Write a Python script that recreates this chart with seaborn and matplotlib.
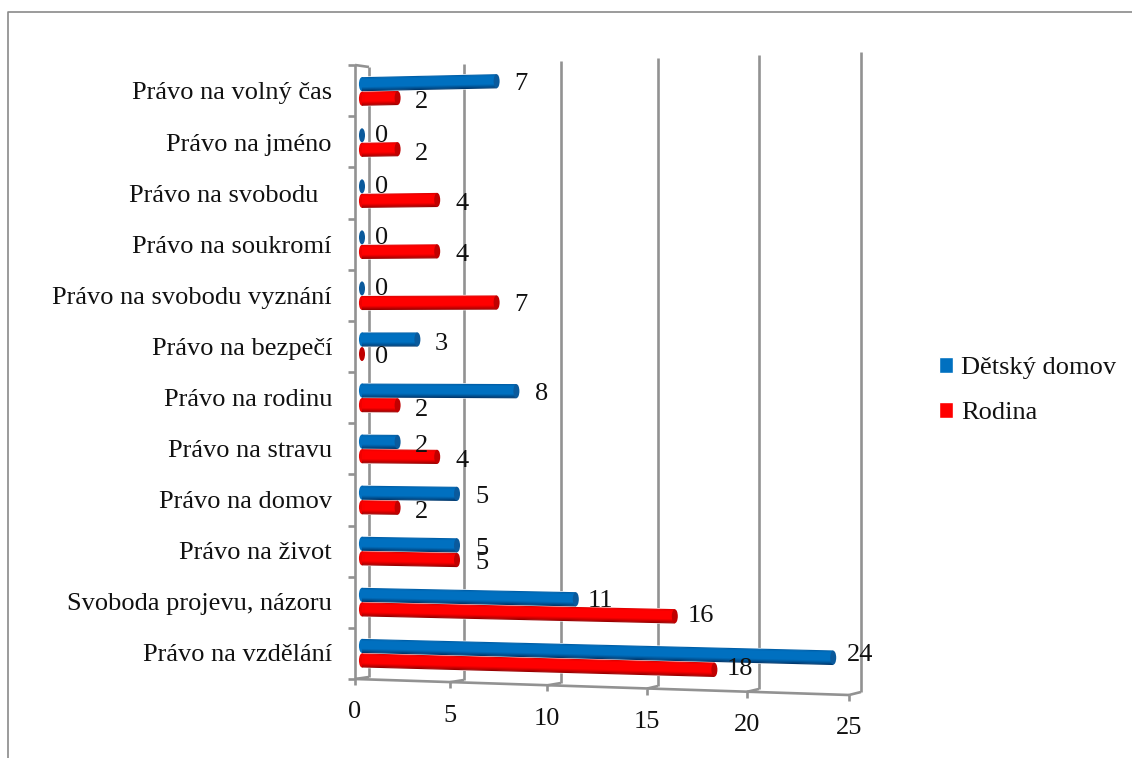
import numpy as np
import pandas as pd
import matplotlib
matplotlib.use("Agg")
import matplotlib.pyplot as plt
from matplotlib.patches import Rectangle, Ellipse
from matplotlib.transforms import Transform
import seaborn as sns

categories = ["Právo na volný čas", "Právo na jméno", "Právo na svobodu  ",
              "Právo na soukromí", "Právo na svobodu vyznání", "Právo na bezpečí",
              "Právo na rodinu", "Právo na stravu", "Právo na domov",
              "Právo na život", "Svoboda projevu, názoru", "Právo na vzdělání"]
detsky_domov = [7, 0, 0, 0, 0, 3, 8, 2, 5, 5, 11, 24]
rodina = [2, 2, 4, 4, 7, 0, 2, 4, 2, 5, 16, 18]
series_names = ["Dětský domov", "Rodina"]
axis_ticks = [0, 5, 10, 15, 20, 25]

sns.set_theme(style="white")
plt.rcParams["font.family"] = ["Liberation Serif", "DejaVu Serif"]
TEXT = "#111111"
FRAME = "#929292"
FS = 19

# Foreshortened wall and floor stations for the axis ticks, in canvas pixels
front_x = [355, 450, 547, 647, 747, 849]
back_x = [369, 464, 561, 658, 759, 861]


class ObliqueView(Transform):
    """Maps (value, category position) onto canvas pixels with a slight vanishing tilt."""
    input_dims = 2
    output_dims = 2
    is_separable = False

    def transform_non_affine(self, values):
        values = np.asarray(values, dtype=float)
        v, c = values[:, 0], values[:, 1]
        y0 = 91.5 + 51.05 * c
        return np.column_stack([358 + 19.8 * v, y0 + 0.00165 * (y0 - 345) * v])


df = pd.DataFrame({
    "category": categories * 2,
    "value": detsky_domov + rodina,
    "series": [series_names[0]] * 12 + [series_names[1]] * 12,
})

fig = plt.figure(figsize=(11.32, 7.58), dpi=100, facecolor="white")
ax = fig.add_axes([0, 0, 1, 1])
sns.barplot(data=df, y="category", x="value", hue="series", order=categories,
            hue_order=series_names, palette=["#0070C0", "#FF0000"], orient="h",
            width=0.57, gap=0.04, saturation=1, errorbar=None, ax=ax, zorder=3)
sns.move_legend(ax, loc="center left", bbox_to_anchor=(938.5 / 1132, 1 - 390.5 / 758),
                frameon=False, title=None, fontsize=FS, handlelength=0.55,
                handleheight=0.55, handletextpad=0.3, labelspacing=0.87,
                labelcolor=TEXT, borderpad=0, borderaxespad=0)
ax.set_autoscale_on(False)
ax.set_xlim(0, 1132)
ax.set_ylim(758, 0)
ax.axis("off")

view = ObliqueView()
to_canvas = view + ax.transData


def px(v, c):
    return view.transform_non_affine(np.array([[v, c]]))[0]


# Outer chart border
ax.plot([8, 8, 1132], [758, 12, 12], color="#8a8a8a", lw=1.2, zorder=1)

# Walls, floor and gridlines of the oblique box
wall = dict(color=FRAME, lw=1.9, zorder=1, solid_capstyle="butt")
ax.plot([355, 355], [65, 679], **wall)
ax.plot([369, 369], [67, 677], **wall)
ax.plot([355, 369], [65, 67], **wall)
ax.plot([355, 849], [679, 695], **wall)
for i in range(13):
    y = 65 + i * 51.17
    ax.plot([348, 355], [y, y], **wall)
for t, fx, bx in zip(axis_ticks, front_x, back_x):
    fy = 679 + 0.64 * t
    b_low, b_top = 677 + 0.6 * t, 67 - 0.6 * t
    ax.plot([fx, fx], [fy, fy + 6], **wall)
    ax.plot([fx, bx], [fy, b_low], **wall)
    if t > 0:
        ax.plot([bx, bx], [b_top, b_low], **wall)
    ax.text(fx, 710 + 0.64 * t, str(t), ha="center", va="center_baseline", fontsize=FS, color=TEXT)

# Category names
for i, name in enumerate(categories):
    ax.text(332, 91 + 51.05 * i, name, ha="right", va="center_baseline", fontsize=FS, color=TEXT)

# Cylinder shading across each bar's thickness
stops = [0, 0.15, 0.7, 1]
shades = {
    0: np.array([[0, 90, 160], [0, 112, 192], [0, 112, 192], [0, 50, 100]]) / 255,
    1: np.array([[215, 0, 0], [255, 0, 0], [255, 0, 0], [140, 0, 0]]) / 255,
}
cap_colors = {0: "#0a5a9c", 1: "#c00000"}
bases = {0: "#0070C0", 1: "#F00000"}
start = 0.2
STRIPS = 14

for s, container in enumerate(ax.containers):
    for bar in container:
        v, top, h = bar.get_width(), bar.get_y(), bar.get_height()
        mid = top + h / 2
        cx, cy = px(v, mid)
        if v == 0:
            bar.set_visible(False)
            ax.add_patch(Ellipse((362, cy), 6, 14, fc=cap_colors[s], ec="none", zorder=3 + s))
        else:
            bar.set_x(start)
            bar.set_width(v - start)
            bar.set_transform(to_canvas)
            bar.set_clip_on(False)
            lx, ly = px(start, mid)
            ax.add_patch(Ellipse((lx, ly), 6, 14, fc=bases[s], ec="none", zorder=3 + s))
            for k in range(STRIPS):
                frac = (k + 0.5) / STRIPS
                col = [np.interp(frac, stops, shades[s][:, j]) for j in range(3)]
                ax.add_patch(Rectangle((start, top + k * h / STRIPS), v - start, h / STRIPS * 1.1,
                                       fc=col, ec="none", transform=to_canvas,
                                       clip_on=False, zorder=3 + s))
            ax.add_patch(Ellipse((cx, cy), 6, 14, fc=cap_colors[s], ec="none", zorder=3 + s))
        # Value labels drift upward along the longer bars
        label_y = cy + 2.5 - 0.3 * v - (4.5 if v == 0 and s == 0 else 0)
        if v == 0 and s == 1:
            label_y = cy
        ax.text(382 + 19.9 * v, label_y, str(int(v)), ha="center", va="center_baseline",
                fontsize=FS, color=TEXT, zorder=6)

fig.savefig("out.png", dpi=100, facecolor="white")
